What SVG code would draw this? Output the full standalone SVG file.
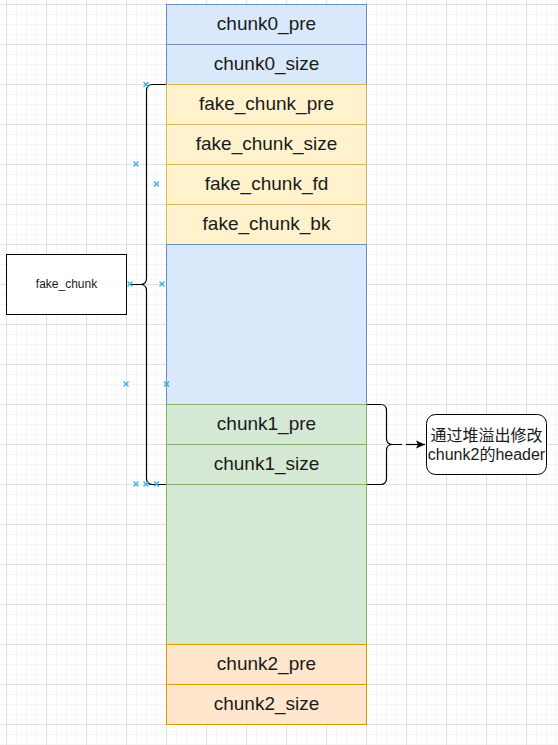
<svg xmlns="http://www.w3.org/2000/svg" width="558" height="745" viewBox="0 0 558 745">
<style>
.t{font-family:"Liberation Sans",Arial,sans-serif;font-size:19px;fill:#1a1a1a;text-anchor:middle;dominant-baseline:central}
.blue{fill:#dae8fc;stroke:#6c8ebf}
.yel{fill:#fff2cc;stroke:#d6b656}
.grn{fill:#d5e8d4;stroke:#82b366}
.org{fill:#ffe6cc;stroke:#d79b00}
.ln{fill:none;stroke:#000;stroke-width:1.2}
.x{fill:none;stroke:#33aef0;stroke-width:1.3}
</style>
<defs>
<pattern id="grid" patternUnits="userSpaceOnUse" x="6" y="4" width="40" height="40">
<path d="M10.5,0V40M20.5,0V40M30.5,0V40M0,10.5H40M0,20.5H40M0,30.5H40" stroke="#f5f5f5" stroke-width="1" fill="none"/>
<path d="M0.5,0V40M0,0.5H40" stroke="#e0e0e0" stroke-width="1" fill="none"/>
</pattern>
<marker id="arr" markerWidth="10" markerHeight="10" refX="9" refY="5" orient="auto" markerUnits="userSpaceOnUse">
<path d="M0,1 L9,5 L0,9 L2,5 Z" fill="#000"/>
</marker>
<path id="xm" d="M-2.5,-2.5L2.5,2.5M2.5,-2.5L-2.5,2.5"/>
</defs>
<rect width="558" height="745" fill="#fff"/>
<rect width="558" height="745" fill="url(#grid)"/>

<g id="chunk0_pre"><rect class="blue" x="166.5" y="4.5" width="200" height="40"/><text class="t" x="266.5" y="23">chunk0_pre</text></g>
<g id="chunk0_size"><rect class="blue" x="166.5" y="44.5" width="200" height="40"/><text class="t" x="266.5" y="63">chunk0_size</text></g>
<g id="fake_chunk_pre"><rect class="yel" x="166.5" y="84.5" width="200" height="40"/><text class="t" x="266.5" y="103">fake_chunk_pre</text></g>
<g id="fake_chunk_size"><rect class="yel" x="166.5" y="124.5" width="200" height="40"/><text class="t" x="266.5" y="143">fake_chunk_size</text></g>
<g id="fake_chunk_fd"><rect class="yel" x="166.5" y="164.5" width="200" height="40"/><text class="t" x="266.5" y="183">fake_chunk_fd</text></g>
<g id="fake_chunk_bk"><rect class="yel" x="166.5" y="204.5" width="200" height="40"/><text class="t" x="266.5" y="223">fake_chunk_bk</text></g>
<g id="chunk0_data"><rect class="blue" x="166.5" y="244.5" width="200" height="160"/></g>
<g id="chunk1_pre"><rect class="grn" x="166.5" y="404.5" width="200" height="40"/><text class="t" x="266.5" y="423">chunk1_pre</text></g>
<g id="chunk1_size"><rect class="grn" x="166.5" y="444.5" width="200" height="40"/><text class="t" x="266.5" y="463">chunk1_size</text></g>
<g id="chunk1_data"><rect class="grn" x="166.5" y="484.5" width="200" height="160"/></g>
<g id="chunk2_pre"><rect class="org" x="166.5" y="644.5" width="200" height="40"/><text class="t" x="266.5" y="663">chunk2_pre</text></g>
<g id="chunk2_size"><rect class="org" x="166.5" y="684.5" width="200" height="40"/><text class="t" x="266.5" y="703">chunk2_size</text></g>

<g id="fake_chunk"><rect x="6.5" y="254.5" width="120" height="60" fill="#fff" stroke="#000"/><text class="t" x="66.5" y="283.5" style="font-size:12px">fake_chunk</text></g>
<g id="note"><rect x="426.5" y="414.5" width="120" height="60" rx="9" fill="#fff" stroke="#000"/>
<text class="t" x="486.5" y="435" style="font-size:16px;font-family:'Liberation Sans','Noto Sans CJK SC',sans-serif">通过堆溢出修改</text>
<text class="t" x="486.5" y="454" style="font-size:16px;font-family:'Liberation Sans','Noto Sans CJK SC',sans-serif">chunk2的header</text></g>

<g id="connectors">
<path class="ln" d="M166,84.5H152.5Q146.5,84.5 146.5,90.5V278.5Q146.5,284.5 140.5,284.5H131M140.5,284.5Q146.5,284.5 146.5,290.5V478.5Q146.5,484.5 152.5,484.5H166"/>
<path class="ln" d="M367,404.5H380.5Q386.5,404.5 386.5,410.5V438.5Q386.5,444.5 392.5,444.5H402M392.5,444.5Q386.5,444.5 386.5,450.5V478.5Q386.5,484.5 380.5,484.5H367"/>
<path class="ln" d="M406,444.5H425" marker-end="url(#arr)"/>
</g>
<g id="points" class="x">
<use href="#xm" x="146" y="84.5"/>
<use href="#xm" x="136" y="164"/>
<use href="#xm" x="156.5" y="184"/>
<use href="#xm" x="130" y="284"/>
<use href="#xm" x="162" y="284"/>
<use href="#xm" x="126" y="384"/>
<use href="#xm" x="166.5" y="384"/>
<use href="#xm" x="136" y="484"/>
<use href="#xm" x="146" y="484"/>
<use href="#xm" x="156.5" y="484"/>
</g>
</svg>
